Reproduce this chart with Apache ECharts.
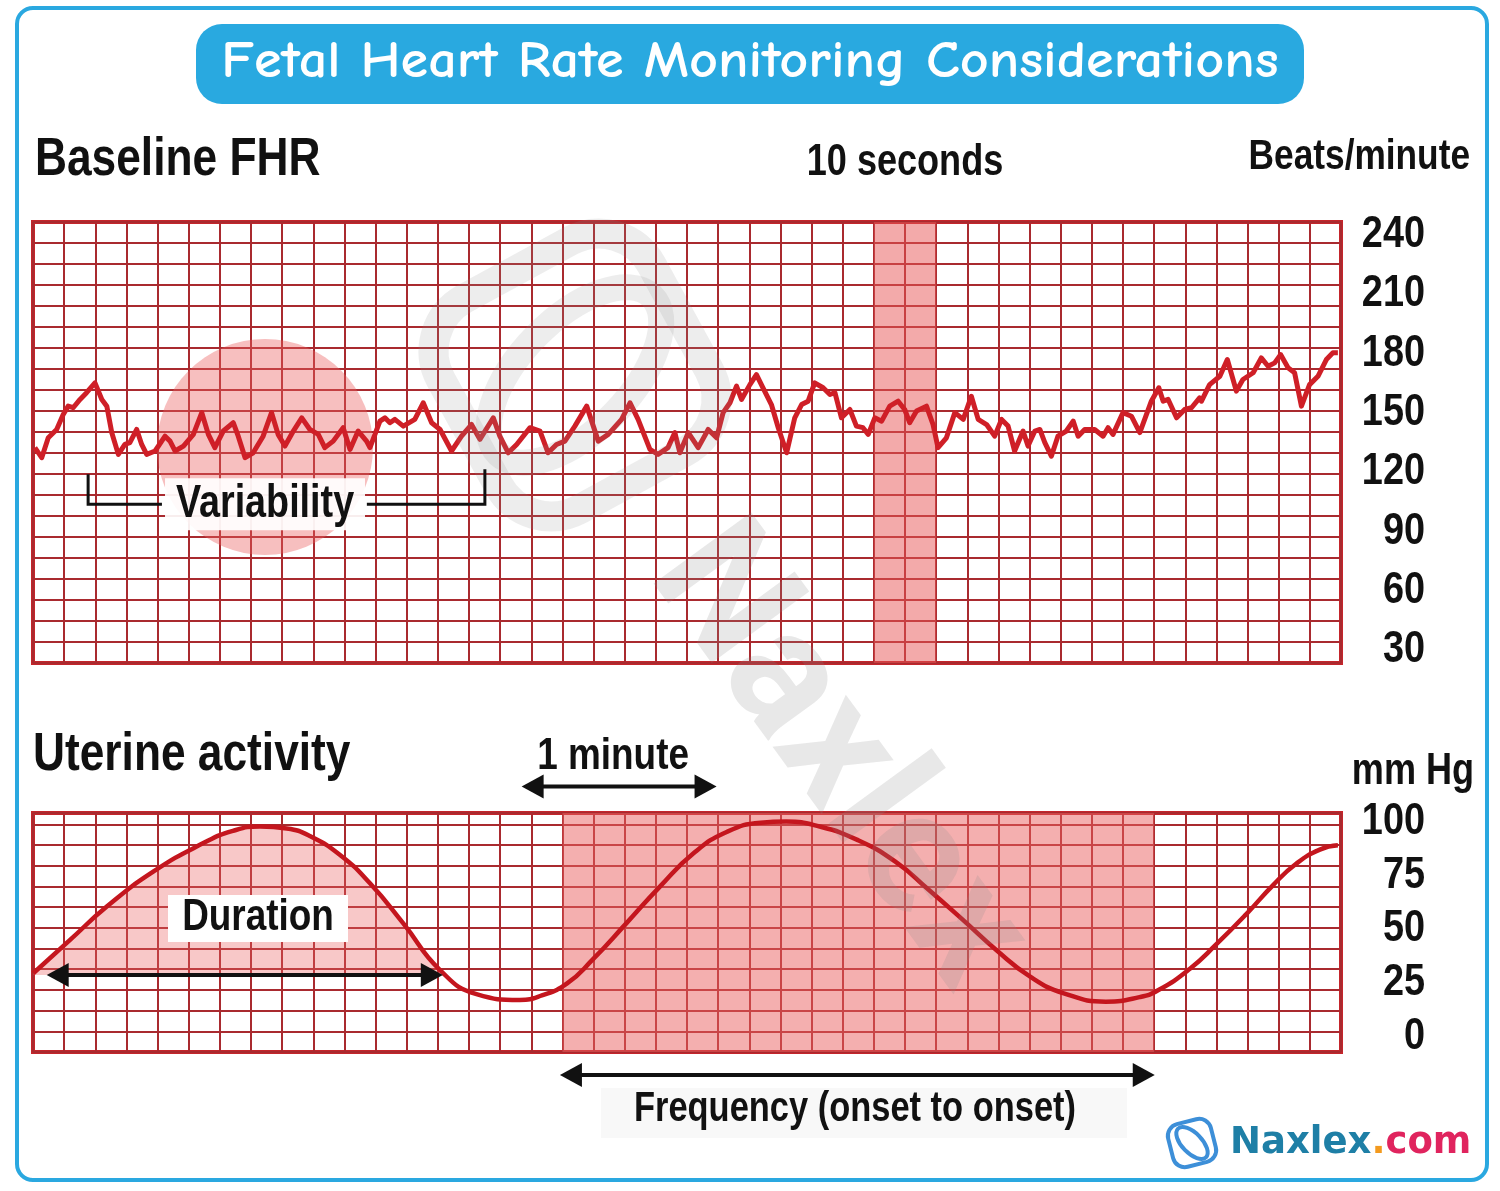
<!DOCTYPE html>
<html>
<head>
<meta charset="utf-8">
<title>Fetal Heart Rate Monitoring Considerations</title>
<script src="https://cdn.jsdelivr.net/npm/echarts@6/dist/echarts.min.js"></script>
<style>
  html, body { margin: 0; padding: 0; background: #fff; }
  #main { width: 1500px; height: 1191px; }
</style>
</head>
<body>
<div id="main"></div>
<script>
// FHR trace: x in grid columns (0-42), y in beats/minute
var fhrTime = [
  0.06, 0.28, 0.49, 0.76, 0.97, 1.13, 1.29, 1.51, 1.72, 1.99, 2.21, 2.37, 2.53, 2.74, 2.95, 3.11, 3.33, 3.49, 3.65, 3.92,
  4.24, 4.40, 4.56, 4.83, 5.15, 5.42, 5.63, 5.84, 6.11, 6.43, 6.59, 6.81, 7.07, 7.39, 7.66, 7.87, 8.09, 8.36, 8.63, 8.89,
  9.16, 9.37, 9.64, 9.96, 10.18, 10.44, 10.71,
  10.82, 11.14, 11.30, 11.46, 11.62, 11.89, 12.26, 12.53, 12.80, 13.07, 13.44, 13.76, 14.08, 14.35, 14.78, 14.99, 15.26,
  15.53, 15.96, 16.28, 16.54, 16.81, 17.08, 17.40, 17.78, 18.15, 18.47, 18.90, 19.17, 19.43, 19.81, 20.07, 20.39, 20.61,
  20.77, 21.04, 21.36,
  21.68, 21.95, 22.16, 22.38, 22.59, 22.75, 23.02, 23.23, 23.44, 23.71, 23.93, 24.20, 24.46, 24.68, 24.89, 25.10, 25.37,
  25.59, 25.75, 25.96, 26.23, 26.44, 26.65, 26.82, 27.03, 27.25, 27.51, 27.78, 27.99, 28.15, 28.37, 28.69, 28.90, 29.06,
  29.33, 29.60, 29.87, 30.13, 30.35, 30.62, 30.88, 31.10, 31.31, 31.52, 31.79, 31.95, 32.17,
  32.33, 32.49, 32.70, 32.91, 33.18, 33.40, 33.56, 33.77, 34.09, 34.36, 34.52, 34.68, 35.00, 35.27, 35.54, 35.91, 36.15,
  36.29, 36.45, 36.72, 36.98, 37.20, 37.46, 37.52, 37.78, 38.11, 38.35, 38.64, 38.85, 39.18, 39.44, 39.66, 39.87, 40.06,
  40.30, 40.51, 40.73, 40.99, 41.26, 41.53, 41.74, 41.90
];
var fhrBpm = [
  132.4, 127.3, 137.4, 141.6, 149.2, 153.4, 152.6, 156.8, 160.2, 165.2, 156.8, 153.4, 139.9, 129, 134, 134.9, 141.6, 134, 129, 130.7,
  138.2, 135.7, 130.7, 133.2, 139.1, 150.1, 139.1, 132.4, 140.8, 145, 138.2, 127.3, 129.8, 138.2, 150.1, 139.1, 133.2, 140.8, 147.5, 141.6,
  139.1, 132.4, 135.7, 142.5, 131.5, 140.8, 135.7,
  132.4, 145.8, 147.5, 145, 146.7, 143.3, 146.7, 155.1, 145, 141.6, 130.7, 138.2, 144.1, 136.6, 147.5, 138.2, 129.8,
  134, 142.5, 140.8, 129.8, 134, 135.7, 143.3, 153.4, 135.7, 139.1, 146.7, 155.1, 146.7, 131.5, 129, 132.4, 140,
  129.8, 140, 132.4,
  141.6, 137.4, 150.1, 155.1, 163.5, 156.8, 164.3, 169.4, 162.7, 154.2, 142.5, 129.8, 147.5, 154.2, 155.9, 165.2, 162.7,
  159.3, 160.2, 147.5, 151.7, 143.3, 142.5, 139.1, 147.5, 145.8, 153.4, 155.9, 151.7, 145, 150.9, 153.4, 144.1, 132.4,
  137.4, 150.1, 146.7, 158.4, 146.7, 144.1, 138.2, 146.7, 143.3, 130.7, 140.8, 133.2, 140.8,
  141.6, 134.9, 128.1, 138.2, 140.8, 145.8, 138.2, 141.6, 141.6, 138.2, 142.5, 139.1, 150.1, 148.3, 140, 155.9, 162.7,
  155.9, 156.8, 147.5, 151.7, 152.6, 157.6, 155.9, 164.3, 168.5, 177, 161, 166.9, 170.3, 177.8, 173.6, 175.3, 179.5,
  172.8, 170.3, 153.4, 164.3, 168.5, 177, 180.4, 180.4
];
var bpmTicks = [30, 60, 90, 120, 150, 180, 210, 240];

// uterine pressure: x in grid columns, y in mm Hg
var uaTime = [0.01, 1.19, 2.37, 3.86, 5.47, 6.42, 7.29, 8.15, 8.89, 9.86, 10.82, 11.89, 13.07, 14.24, 15.63, 16.34,
  17.15, 17.96, 19.05, 20.13, 21.21, 22.29, 23.37, 24.18, 25.26, 26.47, 27.69, 28.77, 29.86, 30.93, 32.02, 33.10,
  34.45, 35.53, 36.14, 37.14, 38.00, 38.96, 39.82, 40.57, 41.32, 41.90];
var uaPressure = [29.5, 45, 60.5, 76.7, 90, 95.7, 97.7, 96.8, 93.3, 84.5, 71.3, 52.7, 31, 19.8, 17.1, 19.2,
  24.8, 35.7, 52.7, 69.8, 85.3, 95.3, 99.5, 100, 97.7, 91.5, 81.4, 68.2, 54.3, 40.3, 27.9, 20.2,
  16.3, 18.4, 21.7, 31.5, 43, 57, 70.5, 80.5, 87, 89];
var mmHgTicks = [0, 25, 50, 75, 100];

// annotations (grid columns / axis values)
var tenSecondBand = [27, 29];
var frequencyBand = [17, 36];
var variabilityCenter = [7.45, 132.7];
var variabilityBracket = [1.77, 4.14, 10.72, 14.51];
var durationSpan = [0.44, 13.16];
var durationLevel = 28.7;
var minuteSpan = [15.69, 21.95];
var frequencySpan = [16.92, 36.02];

var COND = "'Liberation Sans', Arial, sans-serif";
var SQUEEZE = 0.82;
var GRID_RED = '#a92a2f';
var BORDER_RED = '#c4252b';

var fhrData = fhrTime.map(function (t, i) { return [t, fhrBpm[i]]; });
var uaData = uaTime.map(function (t, i) { return [t, uaPressure[i]]; });
var durationFill = uaData.filter(function (d) { return d[0] <= durationSpan[1] && d[1] >= durationLevel - 1; });

function colAxis(gi) {
  return {
    gridIndex: gi, type: 'value', min: 0, max: 42, interval: 1,
    axisLine: { show: false }, axisTick: { show: false }, axisLabel: { show: false },
    splitLine: { show: true, lineStyle: { color: GRID_RED, width: 2 } }
  };
}
function rowAxis(gi, min, max) {
  return {
    gridIndex: gi, type: 'value', position: 'left', min: min, max: max, interval: 1,
    axisLine: { show: false }, axisTick: { show: false }, axisLabel: { show: false },
    splitLine: { show: true, lineStyle: { color: GRID_RED, width: 2 } }
  };
}
// value axes: labels are drawn below as squeezed text at the axis' own pixel positions
function valueAxis(gi, min, max) {
  return {
    gridIndex: gi, type: 'value', position: 'right', min: min, max: max,
    axisLine: { show: false }, axisTick: { show: false }, splitLine: { show: false },
    axisLabel: { show: false }
  };
}

var myChart = echarts.init(document.getElementById('main'));

var option = {
  animation: false,
  backgroundColor: '#fff',
  grid: [
    { left: 33, top: 222, width: 1308, height: 441, show: true, borderColor: BORDER_RED, borderWidth: 4 },
    { left: 33, top: 813, width: 1308, height: 239, show: true, borderColor: BORDER_RED, borderWidth: 4 }
  ],
  xAxis: [colAxis(0), colAxis(1)],
  yAxis: [
    valueAxis(0, 23.4, 246.6),
    rowAxis(0, 0, 21),
    valueAxis(1, -7.1, 104),
    rowAxis(1, -0.82, 10.73)
  ],
  series: [
    {
      type: 'scatter', xAxisIndex: 0, yAxisIndex: 0, silent: true, z: 1,
      data: [variabilityCenter], symbolSize: 216,
      itemStyle: { color: 'rgba(236,96,96,0.5)' }
    },
    {
      name: 'FHR', type: 'line', xAxisIndex: 0, yAxisIndex: 0, z: 3,
      data: fhrData, showSymbol: false,
      lineStyle: { color: '#cf1f27', width: 5, join: 'round' },
      markArea: {
        silent: true,
        itemStyle: { color: 'rgba(232,86,86,0.5)' },
        data: [[{ xAxis: tenSecondBand[0] }, { xAxis: tenSecondBand[1] }]]
      }
    },
    {
      type: 'line', xAxisIndex: 1, yAxisIndex: 2, z: 2,
      data: durationFill, showSymbol: false, smooth: 0.5,
      lineStyle: { width: 0 },
      areaStyle: { origin: durationLevel, color: 'rgba(236,100,100,0.5)' }
    },
    {
      name: 'Uterine', type: 'line', xAxisIndex: 1, yAxisIndex: 2, z: 3,
      data: uaData, showSymbol: false, smooth: 0.5,
      lineStyle: { color: '#c4161e', width: 4.5 },
      markArea: {
        silent: true,
        itemStyle: { color: 'rgba(234,96,96,0.5)' },
        data: [[{ xAxis: frequencyBand[0] }, { xAxis: frequencyBand[1] }]]
      }
    }
  ]
};
myChart.setOption(option);

// helpers for annotations
function px(seriesIndex, x, y) {
  return myChart.convertToPixel({ seriesIndex: seriesIndex }, [x, y]);
}
function label(x, y, text, size, align, sx) {
  return {
    type: 'text', z: 100, x: x, y: y, scaleX: sx || SQUEEZE,
    style: {
      x: 0, y: 0, text: text, fill: '#111',
      font: 'bold ' + size + 'px ' + COND,
      textAlign: align || 'left', textVerticalAlign: 'middle', verticalAlign: 'middle'
    }
  };
}
function arrow(x1, x2, y) {
  var h = 22, w = 12;
  return {
    type: 'group', z: 100, children: [
      { type: 'line', z: 100, shape: { x1: x1 + h - 2, y1: y, x2: x2 - h + 2, y2: y }, style: { stroke: '#111', lineWidth: 4 } },
      { type: 'polygon', z: 100, shape: { points: [[x1, y], [x1 + h, y - w], [x1 + h, y + w]] }, style: { fill: '#111' } },
      { type: 'polygon', z: 100, shape: { points: [[x2, y], [x2 - h, y - w], [x2 - h, y + w]] }, style: { fill: '#111' } }
    ]
  };
}
function box(x, y, w, h, fill) {
  return { type: 'rect', z: 99, shape: { x: x, y: y, width: w, height: h }, style: { fill: fill } };
}

var durA = px(3, durationSpan[0], durationLevel);
var durB = px(3, durationSpan[1], durationLevel);
var minA = px(3, minuteSpan[0], 116.3);
var minB = px(3, minuteSpan[1], 116.3);
var frqA = px(3, frequencySpan[0], -17.8);
var frqB = px(3, frequencySpan[1], -17.8);
var varL = px(1, variabilityBracket[0], 103.7);
var varL2 = px(1, variabilityBracket[1], 103.7);
var varR = px(1, variabilityBracket[2], 103.7);
var varR2 = px(1, variabilityBracket[3], 103.7);
var varTopL = px(1, variabilityBracket[0], 118.9);
var varTopR = px(1, variabilityBracket[3], 121.4);
var varMid = px(1, variabilityCenter[0], 103.7);

var graphics = [
  // frame and title banner
  { type: 'rect', z: 0, shape: { x: 17, y: 8, width: 1470, height: 1172, r: 16 }, style: { fill: 'none', stroke: '#2aa8e0', lineWidth: 4 } },
  { type: 'rect', z: 1, shape: { x: 196, y: 24, width: 1108, height: 80, r: 26 }, style: { fill: '#29a9e0' } },
  {
    type: 'text', z: 2, x: 750, y: 62, scaleX: 1.06,
    style: {
      x: 0, y: 0, text: 'Fetal Heart Rate Monitoring Considerations', fill: '#fff',
      font: "600 53px 'Comic Sans MS','Comic Neue','Open Sans',sans-serif",
      textAlign: 'center', textVerticalAlign: 'middle', verticalAlign: 'middle'
    }
  },
  // headings
  label(35, 160, 'Baseline FHR', 54, 'left'),
  label(905, 163, '10 seconds', 44, 'center'),
  label(1470, 157, 'Beats/minute', 43, 'right'),
  label(33, 755, 'Uterine activity', 54, 'left'),
  label(1413, 772, 'mm Hg', 44, 'center'),
  // variability bracket
  { type: 'polyline', z: 100, shape: { points: [[varTopL[0], varTopL[1]], [varL[0], varL[1]], [varL2[0], varL2[1]]] }, style: { stroke: '#111', lineWidth: 3, fill: 'none' } },
  { type: 'polyline', z: 100, shape: { points: [[varR[0], varR[1]], [varR2[0], varR2[1]], [varTopR[0], varTopR[1]]] }, style: { stroke: '#111', lineWidth: 3, fill: 'none' } },
  box(varMid[0] - 100, varMid[1] - 26, 200, 52, 'rgba(255,255,255,0.92)'),
  label(varMid[0], varMid[1], 'Variability', 46, 'center'),
  // duration
  box(168, 895, 180, 47, '#fff'),
  label(258, 918, 'Duration', 45, 'center'),
  arrow(durA[0], durB[0], durA[1]),
  // one minute
  label((minA[0] + minB[0]) / 2 - 6, 757, '1 minute', 45, 'center'),
  arrow(minA[0], minB[0], minA[1]),
  // frequency
  box(601, 1088, 526, 50, '#f8f8f8'),
  arrow(frqA[0], frqB[0], frqA[1]),
  label(855, 1109, 'Frequency (onset to onset)', 42, 'center'),
  // watermark
  {
    type: 'rect', z: 90, x: 575, y: 375, rotation: 0.5,
    shape: { x: -120, y: -120, width: 240, height: 240, r: 60 },
    style: { fill: 'none', stroke: 'rgba(140,140,140,0.16)', lineWidth: 30 }
  },
  {
    type: 'ellipse', z: 90, x: 575, y: 375, rotation: 0.8,
    shape: { cx: 0, cy: 0, rx: 110, ry: 55 },
    style: { fill: 'none', stroke: 'rgba(140,140,140,0.16)', lineWidth: 26 }
  },
  {
    type: 'text', z: 90, x: 835, y: 760, rotation: -0.94,
    style: {
      x: 0, y: 0, text: 'Naxlex', fill: 'rgba(140,140,140,0.2)',
      font: 'bold 170px Roboto, sans-serif',
      textAlign: 'center', textVerticalAlign: 'middle', verticalAlign: 'middle'
    }
  },
  // logo
  {
    type: 'rect', z: 100, x: 1192, y: 1143, rotation: 0.25,
    shape: { x: -22, y: -22, width: 44, height: 44, r: 12 },
    style: { fill: 'none', stroke: '#3d8fd8', lineWidth: 4 }
  },
  {
    type: 'ellipse', z: 100, x: 1192, y: 1143, rotation: -0.8,
    shape: { cx: 0, cy: 0, rx: 20, ry: 10 },
    style: { fill: 'none', stroke: '#3d8fd8', lineWidth: 4 }
  },
  {
    type: 'text', z: 100,
    style: {
      x: 1230, y: 1143, text: '{a|Naxlex}{b|.}{c|com}',
      font: "bold 37px 'DejaVu Sans', sans-serif",
      textAlign: 'left', textVerticalAlign: 'middle', verticalAlign: 'middle',
      rich: {
        a: { fill: '#1e7fa6', font: "bold 37px 'DejaVu Sans', sans-serif" },
        b: { fill: '#f39a1e', font: "bold 37px 'DejaVu Sans', sans-serif" },
        c: { fill: '#e0245e', font: "bold 37px 'DejaVu Sans', sans-serif" }
      }
    }
  }
];

// tick labels, placed through each value axis
bpmTicks.forEach(function (v) {
  var p = px(1, 0, v);
  graphics.push(label(1425, p[1], String(v), 44, 'right', 0.86));
});
mmHgTicks.forEach(function (v) {
  var p = px(3, 0, v);
  graphics.push(label(1425, p[1], String(v), 44, 'right', 0.86));
});

myChart.setOption({ graphic: graphics });
</script>
</body>
</html>
